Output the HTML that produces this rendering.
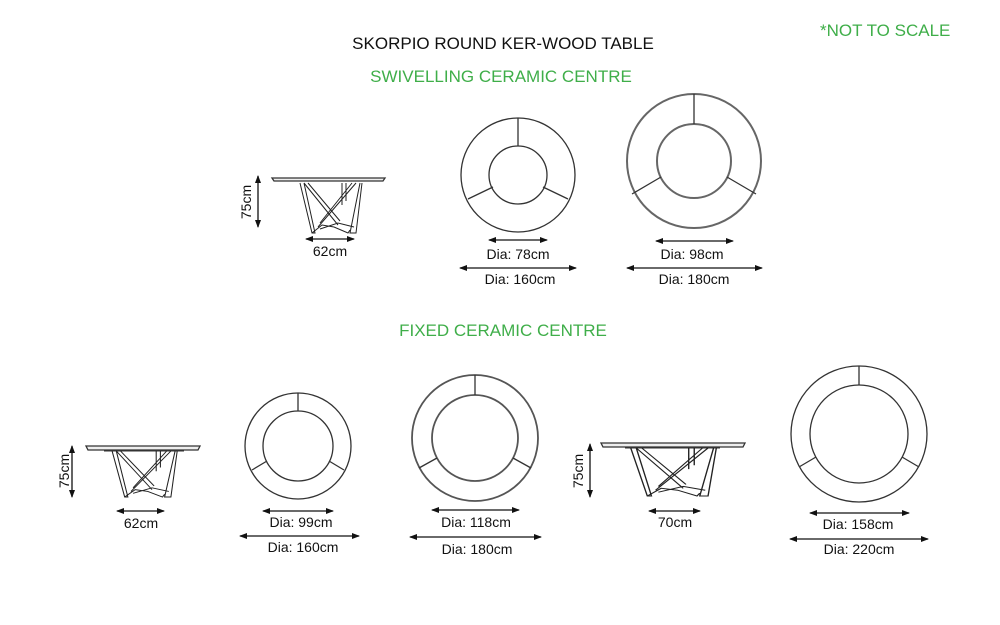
<!DOCTYPE html>
<html><head><meta charset="utf-8"><style>
html,body{margin:0;padding:0;background:#fff}
svg{display:block}
text{font-family:"Liberation Sans",sans-serif;font-size:14px;fill:#111}
.g{fill:#3fae49;font-size:17px}
</style></head><body>
<svg width="1000" height="625" viewBox="0 0 1000 625" xmlns="http://www.w3.org/2000/svg">
<defs>
<marker id="a" markerWidth="8" markerHeight="6" refX="7" refY="3" orient="auto-start-reverse" markerUnits="userSpaceOnUse"><path d="M0,0 L8,3 L0,6z" fill="#111"/></marker>
<g id="legs" fill="none" stroke="#222" stroke-width="1">
<path d="M2,0 L14,50 L17,50 L6,0 M6,0 L40,42 M10,0 L42,38 M62,0 L52,50 L55,50 L58,50 L64,0 M58,0 L20,44 M54,0 L22,40 M44,0 L44,22 M48,0 L48,18 M14,50 L24,42 L36,44 L50,50 L52,47 M22,46 L40,40 L56,44"/>
</g>
</defs>
<g text-anchor="middle">
<text x="503" y="49" style="font-size:17px">SKORPIO ROUND KER-WOOD TABLE</text>
<text x="501" y="82" class="g">SWIVELLING CERAMIC CENTRE</text>
<text x="503" y="336" class="g">FIXED CERAMIC CENTRE</text>
</g>
<text x="820" y="36" class="g">*NOT TO SCALE</text>

<g fill="none" stroke="#333" stroke-width="1.3">
<path d="M272,178 L385,178 L383,181 L274,181z" fill="#eee"/>
<path d="M290,181 H370" stroke-width="1"/>
<use href="#legs" transform="translate(298,183) scale(1,1)"/>
<path d="M86,446 L200,446 L198,450 L88,450z" fill="#eee"/>
<path d="M104,451 H184" stroke-width="1"/>
<use href="#legs" transform="translate(110,451) scale(1.05,0.92)"/>
<path d="M601,443 L745,443 L743,447 L603,447z" fill="#eee"/>
<path d="M625,448 H720" stroke-width="1"/>
<use href="#legs" transform="translate(628,448) scale(1.38,0.96)"/>
</g>

<g fill="none" stroke="#333" stroke-width="1.3">
<circle cx="518" cy="175" r="57"/><circle cx="518" cy="175" r="29"/>
<path d="M518,118 V146 M493,187 L468,199 M543,187 L568,199"/>
<circle cx="694" cy="161" r="67" stroke="#666" stroke-width="2"/><circle cx="694" cy="161" r="37" stroke="#666" stroke-width="2"/>
<path d="M694,94 V124 M661,177 L632,194 M727,177 L756,194"/>
<circle cx="298" cy="446" r="53"/><circle cx="298" cy="446" r="35"/>
<path d="M298,393 V411 M267,461 L252,470 M329,461 L344,470"/>
<circle cx="475" cy="438" r="63" stroke="#555" stroke-width="1.8"/><circle cx="475" cy="438" r="43" stroke="#555" stroke-width="1.8"/>
<path d="M475,375 V395 M437,458 L419,468 M513,458 L531,468"/>
<circle cx="859" cy="434" r="68"/><circle cx="859" cy="434" r="49"/>
<path d="M859,366 V385 M816,457 L799,467 M902,457 L919,467"/>
</g>

<g stroke="#111" stroke-width="1.3" marker-start="url(#a)" marker-end="url(#a)">
<line x1="258" y1="176" x2="258" y2="227"/>
<line x1="306" y1="239" x2="354" y2="239"/>
<line x1="72" y1="446" x2="72" y2="497"/>
<line x1="117" y1="511" x2="164" y2="511"/>
<line x1="590" y1="444" x2="590" y2="497"/>
<line x1="649" y1="511" x2="700" y2="511"/>
<line x1="489" y1="240" x2="547" y2="240"/>
<line x1="460" y1="268" x2="576" y2="268"/>
<line x1="656" y1="241" x2="733" y2="241"/>
<line x1="627" y1="268" x2="762" y2="268"/>
<line x1="263" y1="511" x2="333" y2="511"/>
<line x1="240" y1="536" x2="359" y2="536"/>
<line x1="432" y1="510" x2="519" y2="510"/>
<line x1="410" y1="537" x2="541" y2="537"/>
<line x1="810" y1="513" x2="909" y2="513"/>
<line x1="790" y1="539" x2="928" y2="539"/>
</g>

<g text-anchor="middle">
<text x="330" y="256">62cm</text>
<text x="141" y="528">62cm</text>
<text x="675" y="527">70cm</text>
<text transform="translate(251,202) rotate(-90)">75cm</text>
<text transform="translate(69,471) rotate(-90)">75cm</text>
<text transform="translate(583,471) rotate(-90)">75cm</text>
<text x="518" y="259">Dia: 78cm</text>
<text x="520" y="284">Dia: 160cm</text>
<text x="692" y="259">Dia: 98cm</text>
<text x="694" y="284">Dia: 180cm</text>
<text x="301" y="527">Dia: 99cm</text>
<text x="303" y="552">Dia: 160cm</text>
<text x="476" y="527">Dia: 118cm</text>
<text x="477" y="554">Dia: 180cm</text>
<text x="858" y="529">Dia: 158cm</text>
<text x="859" y="554">Dia: 220cm</text>
</g>
</svg>
</body></html>
